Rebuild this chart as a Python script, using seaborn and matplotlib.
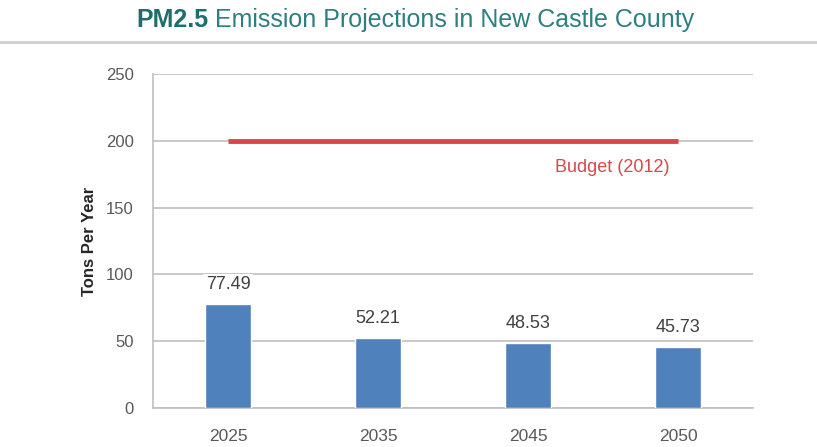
import matplotlib
matplotlib.use("Agg")
import matplotlib.pyplot as plt
import seaborn as sns
import pandas as pd

years = ["2025", "2035", "2045", "2050"]
emissions = [77.49, 52.21, 48.53, 45.73]
budget_value = 200
budget_label = "Budget (2012)"
y_ticks = [0, 50, 100, 150, 200, 250]

sns.set_style("white")
plt.rcParams['font.family'] = ['Liberation Sans', 'DejaVu Sans']

df = pd.DataFrame({"Year": years, "Tons": emissions})

fig = plt.figure(figsize=(8.17, 4.47), dpi=100)
ax = fig.add_axes([0.1873, 0.0872, 0.7344, 0.7473])

sns.barplot(data=df, x="Year", y="Tons", color="#4F81BD", saturation=1,
            width=0.31, ax=ax, zorder=3)

ax.set_ylim(0, 250)
ax.set_xlim(-0.5, 3.5)
ax.set_yticks(y_ticks)
ax.yaxis.grid(True, color="#BFBFBF", linewidth=1.2, zorder=0)
ax.set_axisbelow(True)

for s in ["top", "right"]:
    ax.spines[s].set_visible(False)
for s in ["left", "bottom"]:
    ax.spines[s].set_color("#BFBFBF")
    ax.spines[s].set_linewidth(1.2)

ax.tick_params(axis="y", colors="#BFBFBF", labelcolor="#595959", labelsize=12,
               length=5, width=1.2, pad=9)
ax.tick_params(axis="x", length=0, labelcolor="#595959", labelsize=12.5, pad=15)
ax.set_xticks([0.5, 1.5, 2.5], minor=True)
ax.tick_params(axis="x", which="minor", length=5, color="#BFBFBF", width=1.2)

ax.set_xlabel("")
ax.set_ylabel("Tons Per Year", fontsize=12, fontweight="bold", color="#262626",
              labelpad=6)

for i, v in enumerate(emissions):
    ax.annotate(f"{v:.2f}", (i, v), xytext=(0, 8), textcoords="offset points",
                ha="center", va="bottom", fontsize=13, color="#404040",
                bbox=dict(boxstyle="square,pad=0.15", fc="white", ec="none"),
                zorder=4)

ax.hlines(budget_value, 0, 3, color="#D9474A", linewidth=3.5, zorder=4)
ax.text(2.56, 180, budget_label, ha="center", va="center", fontsize=13,
        color="#D9474A")

# Title: bold "PM2.5" followed by regular text, centred as a whole
title_y = 1 - 20 / 447
t1 = fig.text(0, title_y, "PM2.5", ha="left", va="center", fontsize=18,
              fontweight="bold", color="#1F6E6E")
t2 = fig.text(0, title_y, " Emission Projections in New Castle County",
              ha="left", va="center", fontsize=18, color="#2E7F80")
fig.canvas.draw()
r = fig.canvas.get_renderer()
w1 = t1.get_window_extent(r).width / fig.bbox.width
w2 = t2.get_window_extent(r).width / fig.bbox.width
x0 = 415 / 817 - (w1 + w2) / 2
t1.set_x(x0)
t2.set_x(x0 + w1)
fig.add_artist(plt.Line2D([0, 1], [1 - 42 / 447, 1 - 42 / 447], color="#CFCFCF",
                          linewidth=2, transform=fig.transFigure))

fig.savefig("out.png", dpi=100, facecolor="white")
